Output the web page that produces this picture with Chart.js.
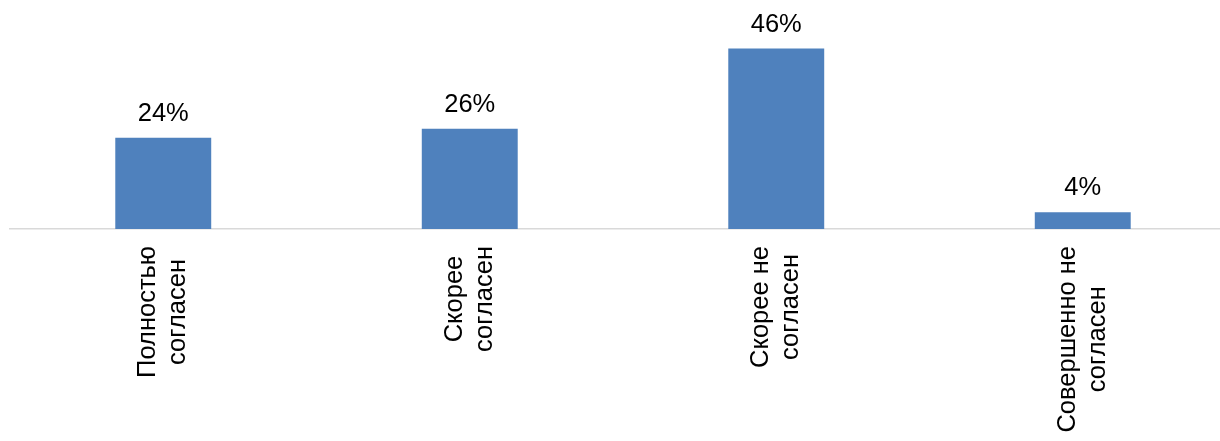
<!DOCTYPE html>
<html>
<head>
<meta charset="utf-8">
<script src="https://cdn.jsdelivr.net/npm/chart.js@4"></script>
<style>
  html, body { margin: 0; padding: 0; background: #fff; overflow: hidden; }
  #wrap { width: 1236px; height: 441px; position: relative; }
</style>
</head>
<body>
<div id="wrap"><canvas id="c"></canvas></div>
<script>
const categories = [
  ["Полностью", "согласен"],
  ["Скорее", "согласен"],
  ["Скорее не", "согласен"],
  ["Совершенно не", "согласен"]
];
const values = [23.5, 25.8, 46.4, 4.3];
const valueLabels = ["24%", "26%", "46%", "4%"];

const FONT = '"Liberation Sans", Arial, sans-serif';
const FSIZE = 25.5;

const labelPlugin = {
  id: 'customLabels',
  afterDatasetsDraw(chart) {
    const ctx = chart.ctx;
    const meta = chart.getDatasetMeta(0);
    const xs = chart.scales.x;
    ctx.save();
    ctx.fillStyle = '#000';
    ctx.font = FSIZE + 'px ' + FONT;
    ctx.textAlign = 'center';
    ctx.textBaseline = 'alphabetic';
    meta.data.forEach((bar, i) => {
      ctx.fillText(valueLabels[i], bar.x, bar.y - 17);
    });
    const lineH = 30;
    const axisY = chart.chartArea.bottom;
    categories.forEach((lines, i) => {
      const tx = xs.getPixelForTick(i);
      let w = 0;
      lines.forEach(l => { w = Math.max(w, ctx.measureText(l).width); });
      const cy = axisY + 17 + w / 2;
      const n = lines.length;
      lines.forEach((l, j) => {
        const lx = tx + (j - (n - 1) / 2) * lineH;
        ctx.save();
        ctx.translate(lx, cy);
        ctx.rotate(-Math.PI / 2);
        ctx.textAlign = 'center';
        ctx.textBaseline = 'middle';
        ctx.fillText(l, 0, 0);
        ctx.restore();
      });
    });
    ctx.restore();
  }
};

new Chart(document.getElementById('c'), {
  type: 'bar',
  data: {
    labels: categories,
    datasets: [{
      data: values,
      backgroundColor: '#4F81BD',
      borderWidth: 0,
      categoryPercentage: 1.0,
      barPercentage: 0.313
    }]
  },
  options: {
    responsive: true,
    maintainAspectRatio: false,
    animation: false,
    layout: { padding: { left: 10, right: 0, top: 0, bottom: 0 } },
    plugins: { legend: { display: false }, tooltip: { enabled: false } },
    scales: {
      x: {
        grid: { display: false },
        border: { display: true, color: '#d9d9d9', width: 1.5 },
        ticks: { display: false },
        afterFit(scale) { scale.height = 212; }
      },
      y: {
        display: false,
        min: 0,
        max: 58.9
      }
    }
  },
  plugins: [labelPlugin]
});
</script>
</body>
</html>
